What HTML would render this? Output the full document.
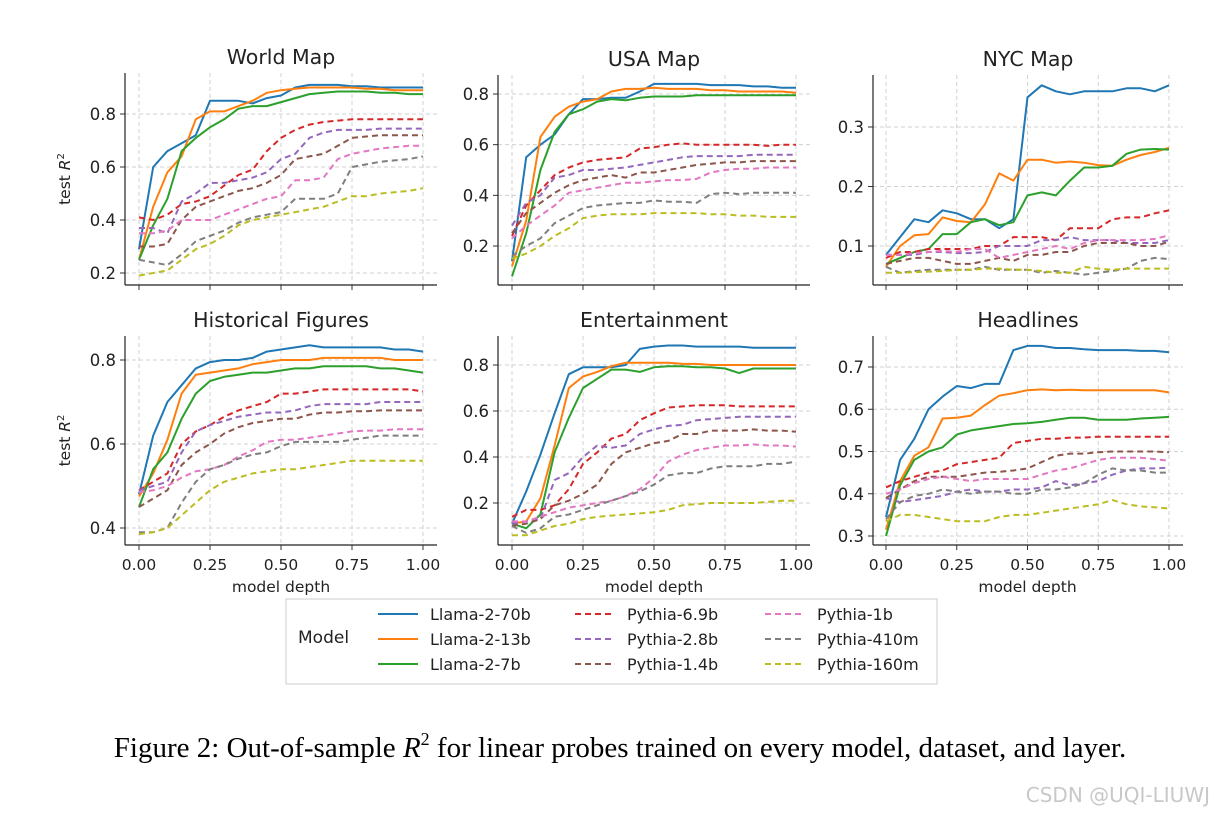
<!DOCTYPE html>
<html><head><meta charset="utf-8">
<style>
body{margin:0;background:#fff;}
svg{display:block;font-family:"DejaVu Sans","Liberation Sans",sans-serif;}
</style></head>
<body>
<svg id="fig" width="1216" height="814" viewBox="0 0 1216 814">
<g id="plots"></g>
<g>
<rect x="286" y="599" width="651" height="85" fill="#fff" stroke="#ccc" stroke-width="1"/>
<text x="298" y="643" font-size="17" fill="#222">Model</text>
<g id="legendItems"></g>
</g>
<text x="620" y="757" text-anchor="middle" font-family="'Liberation Serif',serif" font-size="29" fill="#000">Figure 2: Out-of-sample <tspan font-style="italic">R</tspan><tspan font-size="18" dy="-12">2</tspan><tspan dy="12"> for linear probes trained on every model, dataset, and layer.</tspan></text>
<text x="1210" y="802" text-anchor="end" font-size="20" fill="#c8c8c8">CSDN @UQI-LIUWJ</text>
</svg>
<script>
const depth = [0,0.05,0.1,0.15,0.2,0.25,0.3,0.35,0.4,0.45,0.5,0.55,0.6,0.65,0.7,0.75,0.8,0.85,0.9,0.95,1.0];
const models = ["Llama-2-70b","Llama-2-13b","Llama-2-7b","Pythia-6.9b","Pythia-2.8b","Pythia-1.4b","Pythia-1b","Pythia-410m","Pythia-160m"];
const colors = ["#1f77b4","#ff7f0e","#2ca02c","#d62728","#9467bd","#8c564b","#e377c2","#7f7f7f","#bcbd22"];
const titles = ["World Map","USA Map","NYC Map","Historical Figures","Entertainment","Headlines"];
const xTicks = [0,0.25,0.5,0.75,1.0];
const xTickLabels = ["0.00","0.25","0.50","0.75","1.00"];
const yTicks = [[0.2,0.4,0.6,0.8],[0.2,0.4,0.6,0.8],[0.1,0.2,0.3],[0.4,0.6,0.8],[0.2,0.4,0.6,0.8],[0.3,0.4,0.5,0.6,0.7]];

const worldMap = [
[.29,.60,.66,.69,.72,.85,.85,.85,.84,.86,.87,.90,.91,.91,.91,.905,.905,.90,.90,.90,.90],
[.25,.45,.58,.64,.78,.81,.81,.83,.85,.88,.89,.895,.90,.90,.90,.90,.895,.895,.89,.89,.89],
[.25,.38,.48,.66,.71,.75,.78,.82,.83,.83,.845,.86,.875,.88,.885,.885,.885,.88,.88,.875,.875],
[.41,.40,.42,.46,.47,.49,.53,.57,.59,.66,.71,.74,.76,.77,.775,.78,.78,.78,.78,.78,.78],
[.37,.37,.35,.47,.50,.54,.54,.55,.56,.58,.63,.65,.71,.73,.74,.74,.74,.745,.745,.745,.745],
[.30,.30,.31,.40,.45,.47,.49,.51,.52,.54,.57,.63,.64,.65,.68,.71,.715,.72,.72,.72,.72],
[.35,.35,.36,.40,.40,.40,.42,.44,.46,.48,.49,.55,.55,.56,.63,.65,.66,.67,.675,.68,.68],
[.25,.24,.23,.27,.32,.34,.36,.39,.41,.42,.43,.48,.48,.48,.50,.60,.61,.62,.625,.63,.64],
[.19,.20,.21,.25,.29,.31,.34,.38,.40,.41,.42,.43,.44,.45,.47,.49,.49,.50,.505,.51,.52]];
const usaMap = [
[.14,.55,.60,.64,.72,.78,.78,.785,.785,.81,.84,.84,.84,.84,.835,.835,.835,.83,.83,.825,.825],
[.12,.30,.63,.71,.75,.77,.78,.81,.82,.82,.825,.82,.82,.82,.815,.815,.81,.81,.81,.81,.805],
[.08,.25,.50,.65,.72,.74,.77,.78,.775,.785,.79,.79,.79,.795,.795,.795,.795,.795,.795,.795,.795],
[.24,.36,.42,.48,.51,.53,.54,.545,.55,.585,.59,.60,.605,.60,.60,.60,.60,.60,.595,.60,.60],
[.28,.37,.40,.47,.48,.50,.50,.505,.51,.52,.53,.54,.55,.555,.555,.555,.555,.56,.56,.56,.56],
[.25,.33,.37,.41,.44,.46,.47,.48,.47,.49,.49,.50,.51,.52,.525,.53,.53,.535,.535,.535,.535],
[.23,.28,.32,.36,.41,.42,.43,.44,.45,.45,.455,.46,.46,.465,.49,.50,.505,.505,.51,.51,.51],
[.16,.20,.23,.29,.32,.35,.36,.365,.37,.37,.38,.375,.375,.37,.405,.41,.405,.41,.41,.41,.41],
[.15,.17,.20,.24,.27,.31,.32,.325,.325,.325,.33,.33,.33,.33,.325,.325,.32,.32,.315,.315,.315]];
const nycMap = [
[.085,.115,.145,.14,.16,.155,.145,.145,.13,.145,.35,.37,.36,.355,.36,.36,.36,.365,.365,.36,.37],
[.065,.10,.118,.12,.148,.142,.14,.17,.222,.21,.245,.245,.24,.242,.24,.236,.235,.245,.253,.258,.265],
[.07,.08,.09,.095,.12,.12,.14,.145,.135,.14,.185,.19,.185,.21,.232,.232,.235,.255,.262,.263,.262],
[.08,.09,.09,.095,.095,.095,.095,.10,.10,.115,.115,.115,.11,.13,.13,.13,.145,.148,.148,.155,.16],
[.085,.085,.085,.09,.09,.088,.088,.09,.10,.10,.10,.11,.11,.115,.11,.11,.11,.105,.105,.105,.11],
[.07,.075,.08,.08,.075,.07,.07,.075,.08,.075,.085,.085,.09,.09,.10,.105,.105,.105,.10,.10,.107],
[.085,.085,.088,.09,.092,.09,.095,.095,.08,.085,.09,.095,.10,.095,.105,.11,.11,.11,.11,.112,.118],
[.065,.055,.058,.06,.06,.06,.06,.065,.06,.06,.06,.055,.058,.055,.052,.055,.058,.062,.075,.08,.078],
[.055,.055,.056,.057,.058,.06,.06,.062,.062,.06,.06,.058,.055,.055,.065,.062,.06,.062,.062,.062,.062]];
const historical = [
[.48,.62,.70,.74,.78,.795,.80,.80,.805,.82,.825,.83,.835,.83,.83,.83,.83,.83,.825,.825,.82],
[.475,.53,.61,.72,.765,.77,.775,.78,.79,.795,.80,.80,.80,.805,.805,.805,.805,.805,.80,.80,.80],
[.45,.54,.58,.66,.72,.75,.76,.765,.77,.77,.775,.78,.78,.785,.785,.785,.785,.78,.78,.775,.77],
[.49,.51,.53,.60,.63,.645,.665,.68,.69,.70,.72,.72,.725,.73,.73,.73,.73,.73,.73,.73,.725],
[.49,.50,.51,.58,.63,.645,.655,.665,.67,.675,.675,.68,.69,.695,.695,.695,.695,.70,.70,.70,.70],
[.45,.47,.49,.55,.58,.60,.625,.64,.65,.655,.66,.66,.67,.675,.675,.678,.678,.68,.68,.68,.68],
[.485,.49,.50,.52,.535,.54,.55,.57,.585,.605,.61,.61,.615,.62,.625,.63,.632,.632,.635,.635,.635],
[.39,.39,.40,.46,.51,.54,.55,.565,.575,.58,.595,.605,.605,.605,.605,.61,.615,.62,.62,.62,.62],
[.385,.39,.40,.43,.46,.49,.51,.52,.53,.535,.54,.54,.545,.55,.555,.56,.56,.56,.56,.56,.56]];
const entertainment = [
[.11,.25,.41,.59,.76,.79,.79,.79,.80,.87,.88,.885,.885,.88,.88,.88,.88,.875,.875,.875,.875],
[.11,.12,.22,.45,.70,.75,.77,.795,.81,.81,.81,.81,.805,.805,.80,.80,.80,.80,.80,.80,.80],
[.11,.09,.15,.42,.57,.70,.74,.78,.78,.77,.79,.795,.795,.79,.79,.785,.765,.785,.785,.785,.785],
[.14,.17,.17,.19,.26,.37,.42,.48,.50,.56,.59,.615,.62,.625,.625,.625,.62,.62,.62,.62,.62],
[.11,.12,.13,.30,.33,.40,.45,.44,.45,.50,.52,.535,.54,.56,.565,.57,.575,.575,.575,.575,.575],
[.10,.11,.13,.19,.21,.24,.28,.37,.42,.44,.46,.47,.50,.50,.515,.515,.515,.52,.515,.515,.51],
[.12,.12,.14,.16,.18,.19,.20,.21,.23,.26,.31,.38,.41,.43,.44,.45,.45,.455,.45,.45,.445],
[.10,.07,.09,.14,.15,.17,.19,.21,.23,.25,.28,.32,.33,.33,.35,.36,.36,.36,.37,.37,.38],
[.06,.06,.08,.10,.11,.13,.14,.145,.15,.155,.16,.17,.19,.195,.20,.20,.20,.20,.205,.21,.21]];
const headlines = [
[.345,.48,.53,.60,.63,.655,.65,.66,.66,.74,.75,.75,.745,.745,.742,.74,.74,.74,.738,.738,.735],
[.315,.43,.49,.51,.578,.58,.585,.61,.632,.638,.645,.647,.645,.646,.645,.645,.645,.645,.645,.645,.64],
[.30,.42,.48,.50,.51,.54,.55,.555,.56,.565,.567,.57,.575,.58,.58,.575,.575,.575,.578,.58,.582],
[.415,.43,.44,.45,.455,.47,.475,.48,.485,.52,.525,.53,.53,.533,.533,.535,.535,.535,.535,.535,.535],
[.39,.38,.385,.39,.395,.405,.41,.405,.405,.41,.41,.415,.43,.42,.425,.43,.445,.455,.46,.46,.462],
[.39,.41,.43,.44,.44,.44,.445,.45,.452,.455,.46,.475,.49,.495,.495,.498,.50,.50,.50,.50,.498],
[.40,.41,.425,.435,.44,.435,.43,.435,.435,.435,.435,.445,.455,.46,.47,.48,.485,.485,.485,.482,.478],
[.34,.38,.395,.40,.41,.405,.40,.405,.405,.40,.40,.41,.41,.415,.425,.445,.46,.455,.455,.45,.45],
[.335,.35,.35,.345,.34,.335,.335,.335,.345,.35,.35,.355,.36,.365,.37,.375,.385,.375,.37,.368,.365]];
const datasets = [worldMap,usaMap,nycMap,historical,entertainment,headlines];

// layout (not data)
const layout = [
 {x0:139,x1:423,l:125,r:437,t:73,b:285,va:0.8,pa:114,vb:0.2,pb:273},
 {x0:512,x1:796,l:498,r:810,t:75,b:285,va:0.8,pa:94,vb:0.2,pb:246},
 {x0:886,x1:1169,l:873,r:1183,t:75,b:285,va:0.3,pa:127,vb:0.1,pb:246},
 {x0:139,x1:423,l:125,r:437,t:336,b:545,va:0.8,pa:360,vb:0.4,pb:528},
 {x0:512,x1:796,l:498,r:810,t:336,b:545,va:0.8,pa:365,vb:0.2,pb:503},
 {x0:886,x1:1169,l:873,r:1183,t:336,b:545,va:0.7,pa:367,vb:0.3,pb:536}];
const NS="http://www.w3.org/2000/svg";
function mk(tag,attrs,parent){const e=document.createElementNS(NS,tag);for(const k in attrs)e.setAttribute(k,attrs[k]);parent.appendChild(e);return e;}
const plots=document.getElementById('plots');
datasets.forEach((data,pi)=>{
  const L=layout[pi];
  const sx=v=>L.x0+(L.x1-L.x0)*v;
  const sy=v=>L.pb+(v-L.vb)*(L.pa-L.pb)/(L.va-L.vb);
  const g=mk('g',{},plots);
  
  
  xTicks.forEach((t,i)=>{
    const gl=mk('line',{x1:sx(t),x2:sx(t),y1:L.t,y2:L.b,stroke:'#d0d0d0','stroke-width':1,'stroke-dasharray':'4,3'},g);
    
    
    const tk=mk('line',{x1:sx(t),x2:sx(t),y1:L.b,y2:L.b+5,stroke:'#333','stroke-width':1},g);
    
    
    if(pi>=3){
      const tl=mk('text',{x:sx(t),y:L.b+25,'text-anchor':'middle','font-size':15.5,fill:'#222'},g);
      tl.textContent=xTickLabels[i];
      
      
    }
  });
  yTicks[pi].forEach(t=>{
    const gl=mk('line',{x1:L.l,x2:L.r,y1:sy(t),y2:sy(t),stroke:'#d0d0d0','stroke-width':1,'stroke-dasharray':'4,3'},g);
    
    
    const tk=mk('line',{x1:L.l-5,x2:L.l,y1:sy(t),y2:sy(t),stroke:'#333','stroke-width':1},g);
    
    
    const tl=mk('text',{x:L.l-9,y:sy(t)+6,'text-anchor':'end','font-size':16.5,fill:'#222'},g);
    tl.textContent=t.toFixed(1);
    
    
  });
  data.forEach((series,si)=>{
    const d=series.map((v,i)=>(i?'L':'M')+sx(depth[i]).toFixed(1)+','+sy(v).toFixed(1)).join('');
    const attrs={d:d,fill:'none',stroke:colors[si],'stroke-width':2,'stroke-linejoin':'round'};
    if(si>=3)attrs['stroke-dasharray']='6,4';
    const p=mk('path',attrs,g);
    
    
  });
  const sp1=mk('line',{x1:L.l,x2:L.l,y1:L.t,y2:L.b,stroke:'#222','stroke-width':1.2},g);
  
  
  const sp2=mk('line',{x1:L.l,x2:L.r,y1:L.b,y2:L.b,stroke:'#222','stroke-width':1.2},g);
  
  
  const tt=mk('text',{x:(L.l+L.r)/2,y:L.t-9,'text-anchor':'middle','font-size':20.5,fill:'#222'},g);
  tt.textContent=titles[pi];
  
  
  if(pi>=3){
    const xl=mk('text',{x:(L.x0+L.x1)/2,y:L.b+47,'text-anchor':'middle','font-size':15.5,fill:'#222'},g);
    xl.textContent='model depth';
    
    
  }
  if(pi%3===0){
    const cy=(L.t+L.b)/2;
    const yl=mk('text',{x:0,y:0,transform:'translate(70,'+cy+') rotate(-90)','text-anchor':'middle','font-size':15.5,fill:'#222'},g);
    yl.innerHTML='test <tspan font-style="italic">R</tspan><tspan font-size="10" dy="-6">2</tspan>';
    
    
  }
});
const li=document.getElementById('legendItems');
const colX=[378,575,765], rowY=[614,639,664];
models.forEach((m,i)=>{
  const c=Math.floor(i/3), r=i%3;
  const g=mk('g',{},li);
  
  
  const a={x1:colX[c],x2:colX[c]+40,y1:rowY[r],y2:rowY[r],stroke:colors[i],'stroke-width':2};
  if(i>=3)a['stroke-dasharray']='6,4';
  mk('line',a,g);
  const t=mk('text',{x:colX[c]+52,y:rowY[r]+6,'font-size':16,fill:'#222'},g);
  t.textContent=m;
});
</script>
</body></html>
